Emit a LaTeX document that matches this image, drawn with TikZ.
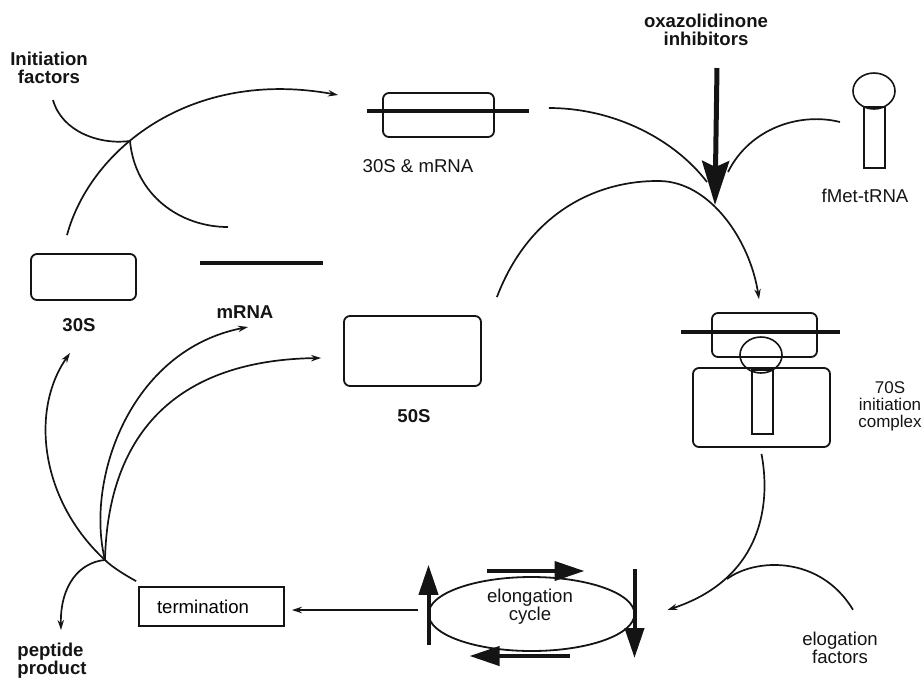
\documentclass[tikz,border=0pt]{standalone}
\usepackage{fontspec}
\setmainfont{Liberation Sans}
\usepackage{tikz}
\usetikzlibrary{arrows.meta,shapes.geometric}
\definecolor{RBInk}{HTML}{141414}

\begin{document}
\begin{tikzpicture}[x=0.5pt,y=-0.5pt,
  lbl/.style={font=\fontsize{9.3}{9}\selectfont,align=center,inner sep=0pt,text=RBInk},
  lblb/.style={lbl,font=\fontsize{9.3}{9}\selectfont\bfseries},
  unit/.style={draw=RBInk,line width=0.9pt,rounded corners=3pt,inner sep=0pt},
  head/.style={draw=RBInk,line width=0.8pt,ellipse,inner sep=0pt,minimum width=21pt,minimum height=18pt},
  stem/.style={draw=RBInk,line width=0.8pt,inner sep=0pt,minimum width=10.5pt},
  rna/.style={RBInk,line width=2pt},
  flow/.style={RBInk,line width=0.85pt},
  flowarr/.style={flow,-{Stealth[length=5pt,width=3.2pt]}},
  bigarr/.style={RBInk,line width=2pt,-{Triangle[length=15pt,width=9.5pt]}}]
\path[use as bounding box] (0,0) rectangle (923,677);
\node[lblb] (initlbl) at (49,68) {Initiation\\factors};
\node[lblb] (oxalbl) at (706,30) {oxazolidinone\\inhibitors};
\node[lbl] (mixlbl) at (418,166) {30S \& mRNA};
\node[lbl] (fmetlbl) at (865,196) {fMet-tRNA};
\node[lblb] (s30lbl) at (79,325) {30S};
\node[lblb] (mrnalbl) at (245,312) {mRNA};
\node[lblb] (s50lbl) at (414,416) {50S};
\node[lbl,font=\fontsize{8.5}{8.5}\selectfont] (s70lbl) at (890,406) {70S\\initiation\\complex};
\node[lbl] (cyclbl) at (530,607) {elongation\\cycle};
\node[lbl] (eflbl) at (840,648) {elogation\\factors};
\node[lblb,anchor=north west,align=left] (peplbl) at (17,643) {peptide\\product};
\node[unit,minimum width=52.5pt,minimum height=23pt] (s30) at (83.5,277) {};
\draw[rna] (200,263) -- (323,263);
\node[unit,minimum width=55.5pt,minimum height=22pt] (mix) at (438.5,115) {};
\draw[rna] (367,111) -- (529,111);
\node[unit,minimum width=68.5pt,minimum height=35pt] (s50) at (412.5,351) {};
\node[unit,minimum width=68.5pt,minimum height=39.5pt] (big70) at (761.5,407.5) {};
\node[unit,minimum width=52.5pt,minimum height=22pt] (small70) at (764.5,335) {};
\draw[rna] (681,332) -- (840,332);
\node[stem,minimum height=32pt] (stem70) at (762.5,402) {};
\node[head] (head70) at (761,355) {};
\node[stem,minimum height=30.5pt] (fstem) at (874.5,137.5) {};
\node[head] (fhead) at (874,91) {};
\node[draw=RBInk,line width=0.9pt,minimum width=72.5pt,minimum height=19.5pt,text width=54.5pt,inner xsep=9pt,align=left,font=\fontsize{9.3}{9}\selectfont] (term) at (211.5,606.5) {termination};
\node[draw=RBInk,line width=0.9pt,ellipse,minimum width=103pt,minimum height=37pt,inner sep=0pt] (cyc) at (531.5,614) {};
\coordinate (ifin) at (53,100);
\coordinate (ifhub) at (130,141);
\coordinate (ifout) at (228,227);
\coordinate (hub) at (105,560);
\coordinate (oxtop) at (717,68);
\coordinate (oxtip) at (715,205);
\coordinate (fin) at (840,122);
\coordinate (efjoin) at (727,579);
\draw[flowarr] ([xshift=-8.25pt,yshift=9pt]s30.north) .. controls (90,150) and (190,68) .. ([xshift=-22pt,yshift=10pt]mix.west);
\draw[flow] (ifin) .. controls (62,132) and (100,145) .. (ifhub);
\draw[flow] (ifhub) .. controls (135,195) and (180,227) .. (ifout);
\draw[flow] ([xshift=27pt,yshift=3.5pt]mix.east) .. controls (615,108) and (675,140) .. (707,182);
\draw[flow] (fin) .. controls (800,112) and (750,128) .. (728,172);
\draw[flowarr] ([xshift=7.5pt,yshift=9pt]s50.north east) .. controls (530,210) and (600,180) .. (660,181) .. controls (710,182) and (750,240) .. ([xshift=-2.75pt,yshift=6.5pt]small70.north);
\draw[RBInk,line width=2.5pt,-{Stealth[length=22pt,width=13.5pt,inset=3pt]}] (oxtop) -- (oxtip);
\draw[flowarr] ([yshift=-3pt]big70.south) .. controls (772,510) and (758,580) .. ([xshift=16pt,yshift=2pt]cyc.east);
\draw[flow] (efjoin) .. controls (755,558) and (820,555) .. ([xshift=6.5pt,yshift=11pt]eflbl.north);
\draw[bigarr] (428.5,644.5) -- (428.5,564.8);
\draw[bigarr] (487,571) -- (584.5,571);
\draw[bigarr] (634.5,569) -- (634.5,658);
\draw[bigarr] (569.5,656) -- (469.5,656);
\draw[flowarr] ([xshift=-5pt,yshift=2pt]cyc.west) -- ([xshift=3.5pt,yshift=-1.75pt]term.east);
\draw[flow] ([xshift=-1pt,yshift=2.5pt]term.north west) .. controls (125,575) and (112,567) .. (hub);
\draw[flowarr] (hub) .. controls (80,562) and (60,585) .. (61,630);
\draw[flowarr] (hub) .. controls (40,500) and (30,410) .. (70,353);
\draw[flowarr] (hub) .. controls (85,480) and (130,350) .. (248,327);
\draw[flowarr] (hub) .. controls (108,430) and (180,360) .. ([xshift=-11pt,yshift=-3.5pt]s50.west);
\end{tikzpicture}
\end{document}
